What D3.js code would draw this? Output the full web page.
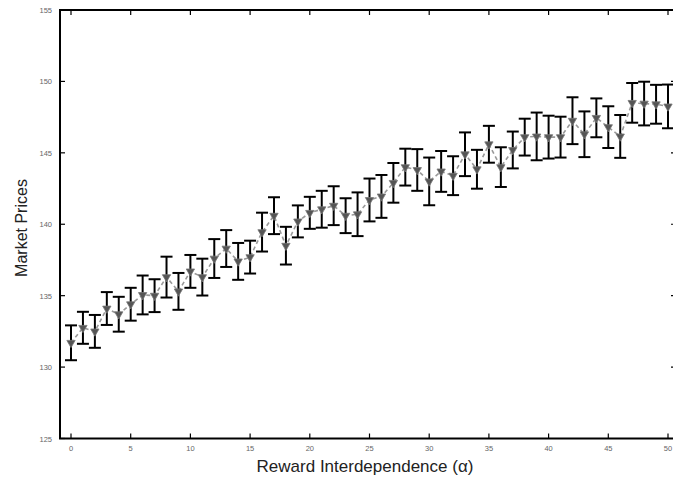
<!DOCTYPE html>
<html>
<head>
<meta charset="utf-8">
<script src="https://cdn.jsdelivr.net/npm/d3@7"></script>
<style>
  body { margin: 0; background: #fff; overflow: hidden; }
  text { font-family: "Liberation Sans", Arial, sans-serif; }
</style>
</head>
<body>
<div id="chart"></div>
<script>
// alpha values 0..50
var alphas = [0,1,2,3,4,5,6,7,8,9,10,11,12,13,14,15,16,17,18,19,20,21,22,23,24,25,26,27,28,29,30,
              31,32,33,34,35,36,37,38,39,40,41,42,43,44,45,46,47,48,49,50];
var prices = [131.7,132.75,132.5,134.1,133.7,134.4,135.05,135.0,136.3,135.3,
              136.7,136.3,137.6,138.3,137.4,137.7,139.45,140.6,138.5,140.2,
              140.8,141.05,141.3,140.6,140.7,141.7,141.95,142.9,144.0,143.8,
              143.0,143.7,143.4,144.9,143.85,145.6,144.0,145.2,146.1,146.15,
              146.1,146.1,147.25,146.3,147.45,146.8,146.15,148.5,148.45,148.4,148.25];
var errs = [1.22,1.12,1.15,1.15,1.22,1.15,1.36,1.15,1.43,1.29,
            1.15,1.29,1.36,1.29,1.29,1.15,1.36,1.29,1.32,1.12,
            1.12,1.29,1.36,1.22,1.53,1.5,1.5,1.39,1.29,1.46,
            1.67,1.43,1.36,1.53,1.36,1.29,1.39,1.29,1.29,1.67,
            1.5,1.43,1.64,1.6,1.36,1.46,1.5,1.39,1.53,1.36,1.53];
var xTicks = [0,5,10,15,20,25,30,35,40,45,50];
var yTicks = [125,130,135,140,145,150,155];

var W = 673, H = 482;
var box = { left: 60, right: 676, top: 10, bottom: 438.5 }; // right edge falls just outside the window

var svg = d3.select('#chart').append('svg').attr('width', W).attr('height', H);

var x = d3.scaleLinear().domain([0, 50]).range([71, 668]);
var y = d3.scaleLinear().domain([125, 155]).range([box.bottom, box.top]);

var data = alphas.map(function(a, i) { return { a: a, p: prices[i], e: errs[i] }; });

// ticks (inward)
var tk = svg.append('g').attr('stroke', '#000').attr('stroke-width', 1.2);
xTicks.forEach(function(t) {
    tk.append('line').attr('x1', x(t)).attr('x2', x(t)).attr('y1', box.bottom).attr('y2', box.bottom - 5);
    tk.append('line').attr('x1', x(t)).attr('x2', x(t)).attr('y1', box.top).attr('y2', box.top + 5);
});
yTicks.forEach(function(t) {
    tk.append('line').attr('x1', box.left).attr('x2', box.left + 5).attr('y1', y(t)).attr('y2', y(t));
    tk.append('line').attr('x1', box.right).attr('x2', box.right - 5).attr('y1', y(t)).attr('y2', y(t));
});

// frame
svg.append('rect')
    .attr('x', box.left).attr('y', box.top)
    .attr('width', box.right - box.left).attr('height', box.bottom - box.top)
    .attr('fill', 'none').attr('stroke', '#000').attr('stroke-width', 2);

// tick labels
svg.append('g').selectAll('text').data(xTicks).enter().append('text')
    .attr('x', function(d) { return x(d); })
    .attr('y', 451)
    .attr('text-anchor', 'middle')
    .attr('font-size', 7.5)
    .attr('fill', '#666')
    .text(function(d) { return d; });

svg.append('g').selectAll('text').data(yTicks).enter().append('text')
    .attr('x', 52)
    .attr('y', function(d) { return y(d) + 3; })
    .attr('text-anchor', 'end')
    .attr('font-size', 7.5)
    .attr('fill', '#666')
    .text(function(d) { return d; });

// dashed connecting line
var line = d3.line().x(function(d) { return x(d.a); }).y(function(d) { return y(d.p); });
svg.append('path').datum(data)
    .attr('d', line)
    .attr('fill', 'none')
    .attr('stroke', '#999')
    .attr('stroke-width', 1.6)
    .attr('stroke-dasharray', '4,3');

// error bars
var eb = svg.append('g').attr('stroke', '#000').attr('stroke-width', 2);
data.forEach(function(d) {
    var cx = x(d.a), t = y(d.p + d.e), b = y(d.p - d.e);
    eb.append('line').attr('x1', cx).attr('x2', cx).attr('y1', t).attr('y2', b);
    eb.append('line').attr('x1', cx - 6).attr('x2', cx + 6).attr('y1', t).attr('y2', t);
    eb.append('line').attr('x1', cx - 6).attr('x2', cx + 6).attr('y1', b).attr('y2', b);
});

// triangle-down markers
var tri = d3.symbol().type(d3.symbolTriangle).size(30);
svg.append('g').selectAll('path').data(data).enter().append('path')
    .attr('d', tri)
    .attr('transform', function(d) { return 'translate(' + x(d.a) + ',' + y(d.p) + ') rotate(180)'; })
    .attr('fill', '#555')
    .attr('stroke', '#777')
    .attr('stroke-width', 0.8);

// axis titles
svg.append('text')
    .attr('x', 365).attr('y', 472)
    .attr('text-anchor', 'middle')
    .attr('font-size', 17)
    .attr('fill', '#222')
    .text('Reward Interdependence  (\u03b1)');

svg.append('text')
    .attr('transform', 'translate(27,' + 228 + ') rotate(-90)')
    .attr('text-anchor', 'middle')
    .attr('font-size', 16)
    .attr('fill', '#222')
    .text('Market Prices');
</script>
</body>
</html>
